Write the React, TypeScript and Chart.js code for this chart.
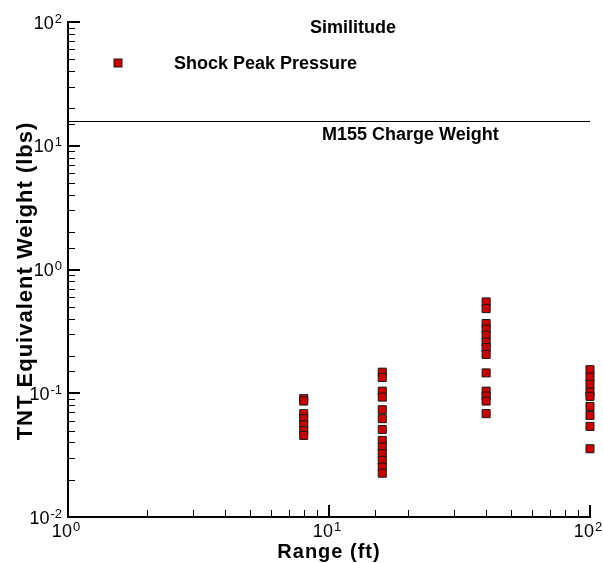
import { useEffect, useRef } from 'react';
import { Chart, registerables } from 'chart.js';

Chart.register(...registerables);

const FONT = '"Liberation Sans", Arial, Helvetica, sans-serif';

// ranges (ft) of the gauges
const ranges = [8, 16, 40, 100];

// TNT equivalent weight (lbs) from shock peak pressure, one list per range
const weightsAt8 = [0.0904, 0.0865, 0.0684, 0.0623, 0.0557, 0.0501, 0.0456];
const weightsAt16 = [
  0.148, 0.134, 0.104, 0.0931, 0.0736, 0.0623, 0.051, 0.0416, 0.0367, 0.0325, 0.0287, 0.0253, 0.0226,
];
const weightsAt40 = [
  0.547, 0.483, 0.366, 0.329, 0.294, 0.259, 0.234, 0.206, 0.146, 0.104, 0.0949, 0.0865, 0.0684,
];
const weightsAt100 = [0.155, 0.135, 0.118, 0.102, 0.0944, 0.0783, 0.0662, 0.054, 0.0356];

const chargeWeight = 15.7;

const xLimits = [1, 100];
const yLimits = [0.01, 100];
const xTickExps = [0, 1, 2];
const yTickExps = [-2, -1, 0, 1, 2];

const chartTitle = 'Similitude';
const seriesLabel = 'Shock Peak Pressure';
const lineLabel = 'M155 Charge Weight';
const xTitle = 'Range (ft)';
const yTitle = 'TNT Equivalent Weight (lbs)';

const RED = '#cc0000';
const EDGE = '#1a1a1a';

const isPow10 = (v: number) => Math.abs(Math.log10(v) - Math.round(Math.log10(v))) < 1e-9;
const crisp = (p: number, lw: number) => Math.round(p) + (lw % 2 ? 0.5 : 0);

function drawPow(ctx: CanvasRenderingContext2D, exp: number, x: number, baseY: number, align: 'center' | 'right') {
  const sup = String(exp);
  ctx.font = `18px ${FONT}`;
  const bw = ctx.measureText('10').width;
  ctx.font = `13px ${FONT}`;
  const sw = ctx.measureText(sup).width;
  const total = bw + sw + 1;
  const left = align === 'center' ? x - total / 2 : x - total;
  ctx.textAlign = 'left';
  ctx.textBaseline = 'alphabetic';
  ctx.font = `18px ${FONT}`;
  ctx.fillText('10', left, baseY);
  ctx.font = `13px ${FONT}`;
  ctx.fillText(sup, left + bw + 1, baseY - 6);
}

const decorPlugin = {
  id: 'decor',
  afterDraw(chart: any) {
    const { ctx, chartArea: a, scales } = chart;
    const xs = scales.x;
    const ys = scales.y;
    ctx.save();
    ctx.strokeStyle = '#000';
    ctx.fillStyle = '#000';

    // inward tick marks, long on decades
    for (const t of xs.ticks) {
      const major = isPow10(t.value);
      const lw = major ? 2 : 1;
      const px = crisp(xs.getPixelForValue(t.value), lw);
      ctx.lineWidth = lw;
      ctx.beginPath();
      ctx.moveTo(px, a.bottom);
      ctx.lineTo(px, a.bottom - (major ? 12 : 7));
      ctx.stroke();
    }
    for (const t of ys.ticks) {
      const major = isPow10(t.value);
      const lw = major ? 2 : 1;
      const py = crisp(ys.getPixelForValue(t.value), lw);
      ctx.lineWidth = lw;
      ctx.beginPath();
      ctx.moveTo(a.left, py);
      ctx.lineTo(a.left + (major ? 12 : 7), py);
      ctx.stroke();
    }

    // decade labels
    for (const e of xTickExps) {
      drawPow(ctx, e, xs.getPixelForValue(10 ** e) - 2, a.bottom + 20, 'center');
    }
    for (const e of yTickExps) {
      drawPow(ctx, e, a.left - 6, ys.getPixelForValue(10 ** e) + 6.5, 'right');
    }

    // titles and labels
    ctx.textBaseline = 'alphabetic';
    ctx.font = `bold 18px ${FONT}`;
    ctx.textAlign = 'center';
    ctx.fillText(chartTitle, 353, 33);
    ctx.textAlign = 'left';
    ctx.fillText(seriesLabel, 174, 68.5);
    ctx.fillText(lineLabel, 322, ys.getPixelForValue(chargeWeight) + 18);

    ctx.fillStyle = RED;
    ctx.strokeStyle = EDGE;
    ctx.lineWidth = 1;
    ctx.fillRect(114, 59, 8, 8);
    ctx.strokeRect(114, 59, 8, 8);

    ctx.fillStyle = '#000';
    (ctx as any).letterSpacing = '1px';
    ctx.font = `bold 20px ${FONT}`;
    ctx.textAlign = 'center';
    ctx.fillText(xTitle, (a.left + a.right) / 2, 557.5);

    ctx.font = `bold 22px ${FONT}`;
    ctx.translate(31.5, 281);
    ctx.rotate(-Math.PI / 2);
    ctx.fillText(yTitle, 0, 0);
    ctx.restore();
  },
};

export default function App() {
  const canvasRef = useRef<HTMLCanvasElement>(null);

  useEffect(() => {
    if (!canvasRef.current) return;

    const weightsByRange = [weightsAt8, weightsAt16, weightsAt40, weightsAt100];
    const points = ranges.flatMap((r, i) => weightsByRange[i].map((w) => ({ x: r, y: w })));

    const chart = new Chart(canvasRef.current, {
      type: 'scatter',
      data: {
        datasets: [
          {
            label: lineLabel,
            data: [
              { x: xLimits[0], y: chargeWeight },
              { x: xLimits[1], y: chargeWeight },
            ],
            showLine: true,
            borderColor: '#000',
            borderWidth: 1,
            pointRadius: 0,
          },
          {
            label: seriesLabel,
            data: points,
            pointStyle: 'rect',
            pointRadius: 5.7,
            backgroundColor: RED,
            borderColor: EDGE,
            borderWidth: 1,
            clip: false,
          },
        ],
      },
      options: {
        animation: false,
        responsive: true,
        maintainAspectRatio: false,
        layout: { padding: { top: 22, right: 13, left: 0, bottom: 0 } },
        plugins: {
          legend: { display: false },
          tooltip: { enabled: false },
        },
        scales: {
          x: {
            type: 'logarithmic',
            min: xLimits[0],
            max: xLimits[1],
            grid: { display: false },
            border: { display: true, color: '#000', width: 2 },
            ticks: { display: false, autoSkip: false },
            afterFit: (s: any) => {
              s.height = 46;
            },
          },
          y: {
            type: 'logarithmic',
            min: yLimits[0],
            max: yLimits[1],
            grid: { display: false },
            border: { display: true, color: '#000', width: 2 },
            ticks: { display: false, autoSkip: false },
            afterFit: (s: any) => {
              s.width = 68;
            },
          },
        },
      },
      plugins: [decorPlugin],
    });

    return () => {
      chart.destroy();
    };
  }, []);

  return (
    <div style={{ position: 'absolute', left: 0, top: 0, width: 603, height: 563, background: '#fff' }}>
      <canvas ref={canvasRef} />
    </div>
  );
}
